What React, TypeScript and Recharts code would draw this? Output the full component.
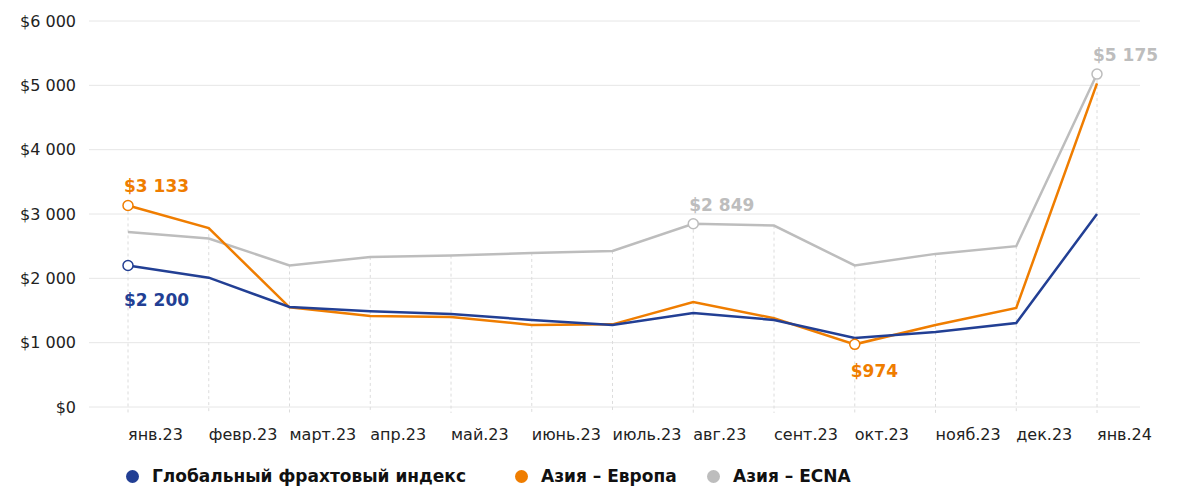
import { LineChart, Line, XAxis, YAxis, CartesianGrid, ReferenceLine } from "recharts"

const months = ["янв.23", "февр.23", "март.23", "апр.23", "май.23", "июнь.23", "июль.23", "авг.23", "сент.23", "окт.23", "нояб.23", "дек.23", "янв.24"]
const globalIndex = [2200, 2010, 1555, 1490, 1446, 1353, 1275, 1462, 1353, 1073, 1166, 1306, 3000]
const asiaEurope = [3133, 2780, 1550, 1415, 1400, 1275, 1285, 1630, 1380, 974, 1275, 1540, 5030]
const asiaEcna = [2720, 2620, 2200, 2333, 2353, 2395, 2426, 2849, 2820, 2200, 2380, 2500, 5175]
const yTicks = [0, 1000, 2000, 3000, 4000, 5000, 6000]

// highlighted points with value labels
const highlights = [
  { key: "global", index: 0, place: "below" },
  { key: "europe", index: 0, place: "above" },
  { key: "ecna", index: 7, place: "above" },
  { key: "europe", index: 9, place: "below" },
  { key: "ecna", index: 12, place: "above" },
]

const colors = { global: "#223f94", europe: "#ef7d00", ecna: "#bdbdbd" }
const font = "'DejaVu Sans', sans-serif"

const data = months.map((m, i) => ({
  month: m,
  global: globalIndex[i],
  europe: asiaEurope[i],
  ecna: asiaEcna[i],
  top: Math.max(globalIndex[i], asiaEurope[i], asiaEcna[i]),
}))

const money = (v: number) => "$" + String(v).replace(/\B(?=(\d{3})+(?!\d))/g, " ")

const makeDot = (key: string) => (props: any) => {
  const { cx, cy, index, value } = props
  const h = highlights.find((x) => x.key === key && x.index === index)
  if (!h) return <g key={key + index} />
  const color = colors[key as keyof typeof colors]
  const dy = h.place === "above" ? -13 : index === 0 ? 41 : 33
  return (
    <g key={key + index}>
      <circle cx={cx} cy={cy} r={5} fill="#fff" stroke={color} strokeWidth={1.5} />
      <text x={cx - 4} y={cy + dy} fill={color} fontFamily={font} fontSize={17} fontWeight="bold">
        {money(value)}
      </text>
    </g>
  )
}

const XTick = (props: any) => {
  const { x, y, payload } = props
  return (
    <text x={x} y={y + 25} textAnchor="start" fill="#222" fontFamily={font} fontSize={16}>
      {payload.value}
    </text>
  )
}

const DropLine = (props: any) => {
  const { x1, y1, x2, y2 } = props
  return <line x1={x1} y1={y1} x2={x2} y2={y2 + 6} stroke="#dcdcdc" strokeDasharray="3 3" strokeWidth={1} />
}

const legendItems = [
  { label: "Глобальный фрахтовый индекс", color: colors.global, left: 126 },
  { label: "Азия – Европа", color: colors.europe, left: 515 },
  { label: "Азия – ECNA", color: colors.ecna, left: 707 },
]

const App = () => {
  return (
    <div style={{ position: "relative", width: 1182, height: 486, background: "#fff" }}>
      <style>{`body{margin:0}`}</style>
      <LineChart width={1182} height={455} data={data} margin={{ top: 21, right: 42, left: 0, bottom: 0 }}>
        <CartesianGrid vertical={false} stroke="#e6e6e6" />
        {data.map((d) => (
          <ReferenceLine
            key={d.month}
            segment={[{ x: d.month, y: d.top }, { x: d.month, y: 0 }]}
            shape={DropLine}
            ifOverflow="visible"
          />
        ))}
        <XAxis
          dataKey="month"
          axisLine={false}
          tickLine={false}
          height={48}
          padding={{ left: 39, right: 43 }}
          tick={XTick}
          interval={0}
        />
        <YAxis
          width={89}
          domain={[0, 6000]}
          ticks={yTicks}
          axisLine={false}
          tickLine={false}
          tickMargin={7}
          tickFormatter={money}
          tick={{ fill: "#222", fontFamily: font, fontSize: 16 }}
        />
        <Line dataKey="ecna" stroke={colors.ecna} strokeWidth={2.5} dot={makeDot("ecna")} activeDot={false} isAnimationActive={false} />
        <Line dataKey="europe" stroke={colors.europe} strokeWidth={2.5} dot={makeDot("europe")} activeDot={false} isAnimationActive={false} />
        <Line dataKey="global" stroke={colors.global} strokeWidth={2.5} dot={makeDot("global")} activeDot={false} isAnimationActive={false} />
      </LineChart>
      {legendItems.map((it) => (
        <div
          key={it.label}
          style={{ position: "absolute", left: it.left, top: 466, display: "flex", alignItems: "center", fontFamily: font, fontSize: 17, fontWeight: "bold", color: "#111", whiteSpace: "nowrap" }}
        >
          <span style={{ width: 13, height: 13, borderRadius: "50%", background: it.color, marginRight: 13, display: "inline-block" }} />
          {it.label}
        </div>
      ))}
    </div>
  )
}

export default App
